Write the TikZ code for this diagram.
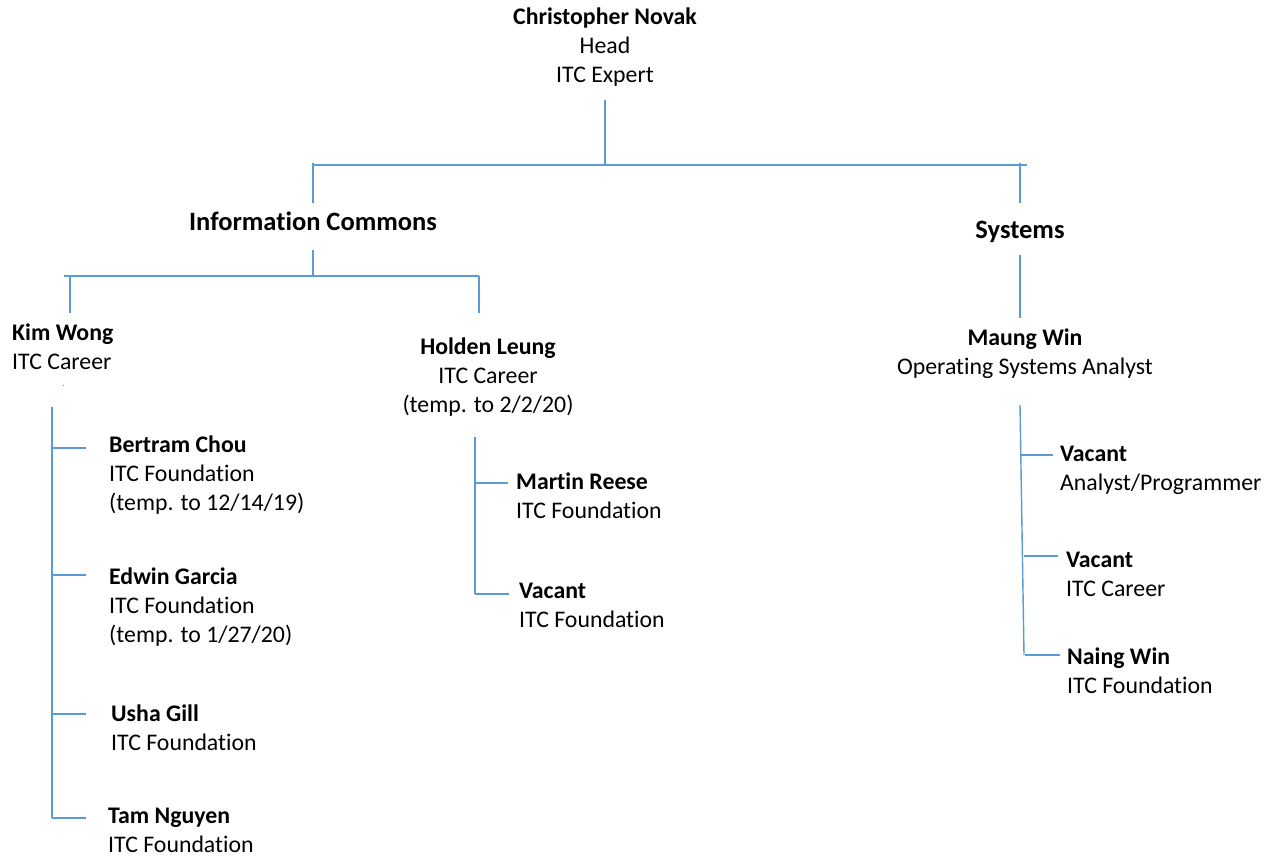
\documentclass[tikz,border=0pt]{standalone}
\usepackage{fontspec}
\setmainfont{Carlito}[Ligatures=NoCommon]
\usetikzlibrary{calc}
\usetikzlibrary{positioning}
\definecolor{orgblue}{RGB}{91,155,213}
\newcommand{\nm}[1]{\textbf{#1}}
\newcommand{\hd}[1]{{\fontsize{26.5}{30}\selectfont\bfseries #1}}

\begin{document}
\begin{tikzpicture}[x=1pt,y=-1pt,
    every node/.style={inner sep=0pt,font=\fontsize{23.8}{28.7}\selectfont},
    lft/.style={anchor=north west,align=left},
    ctr/.style={anchor=north,align=center},
    conn/.style={draw=orgblue,line width=1.4pt}]
  \useasboundingbox (0,0) rectangle (1268,857);
  % head and the two sections
  \node[ctr] (novak) at (605,4.5) {\strut\nm{Christopher Novak}\\Head\\ITC Expert};
  \node[anchor=base] (ic) at (313,230) {\hd{Information Commons}};
  \node[anchor=base] (sys) at (1020,238) {\hd{Systems}};
  % second level
  \node[lft] (kim) at (12,320.5) {\strut\nm{Kim Wong}\\ITC Career};
  \node[ctr] (holden) at (488,334.5) {\strut\nm{Holden Leung}\\ITC Career\\(temp. to 2/2/20)};
  \node[ctr] (maung) at (1025,325.5) {\strut\nm{Maung Win}\\Operating Systems Analyst};
  % staff
  \node[lft] (bertram) at (109,432.5) {\strut\nm{Bertram Chou}\\ITC Foundation\\(temp. to 12/14/19)};
  \node[lft] (edwin) at (109,564.5) {\strut\nm{Edwin Garcia}\\ITC Foundation\\(temp. to 1/27/20)};
  \node[lft] (usha) at (111,701.5) {\strut\nm{Usha Gill}\\ITC Foundation};
  \node[lft] (tam) at (108,803) {\strut\nm{Tam Nguyen}\\ITC Foundation};
  \node[lft] (martin) at (516,469.5) {\strut\nm{Martin Reese}\\ITC Foundation};
  \node[lft] (vacfnd) at (519,578.5) {\strut\nm{Vacant}\\ITC Foundation};
  \node[lft] (vacprog) at (1060,441.5) {\strut\nm{Vacant}\\Analyst/Programmer};
  \node[lft] (vaccar) at (1066,547.5) {\strut\nm{Vacant}\\ITC Career};
  \node[lft] (naing) at (1067,644.5) {\strut\nm{Naing Win}\\ITC Foundation};
  % junctions
  \coordinate (topbus-l) at (313,165);
  \coordinate (topbus-r) at (1027,165);
  \coordinate (icbus-l) at (64,276);
  \coordinate (icbus-r) at (479,276);
  \coordinate (kimtr) at (52,407);
  \coordinate (holdtr) at (475,437);
  \coordinate (maungtr) at (1020,405);
  % connectors
  \draw[conn] (novak.south |- 0,100) -- (novak.south |- topbus-l);
  \draw[conn] (topbus-l) -- (topbus-r);
  \draw[conn] (ic |- 0,163) -- (ic |- 0,203);
  \draw[conn] (sys |- 0,163) -- (sys |- 0,203);
  \draw[conn] (ic |- 0,250) -- (ic |- icbus-l);
  \draw[conn] (icbus-l) -- (icbus-r);
  \draw[conn] (70,276) -- (70,313);
  \draw[conn] (icbus-r) -- (479,313);
  \draw[conn] (sys |- 0,255) -- (sys |- 0,318);
  \draw[orgblue,line width=1pt] (63,384.5) -- (63,386);
  % Kim Wong's staff
  \draw[conn] (kimtr) -- (52,818);
  \foreach \p/\y in {bertram/448,edwin/575,usha/714,tam/818}
    \draw[conn] (52,\y) -- (86,\y);
  % Holden Leung's staff
  \draw[conn] (holdtr) -- (475,594);
  \draw[conn] (475,483) -- (508,483);
  \draw[conn] (475,594) -- (509,594);
  % Maung Win's staff
  \draw[conn] (maungtr) -- (1024,655);
  \draw[conn] (1020,455) -- (1053,455);
  \draw[conn] (1024,556) -- (1058,556);
  \draw[conn] (1025,655) -- (1060,655);
\end{tikzpicture}
\end{document}
